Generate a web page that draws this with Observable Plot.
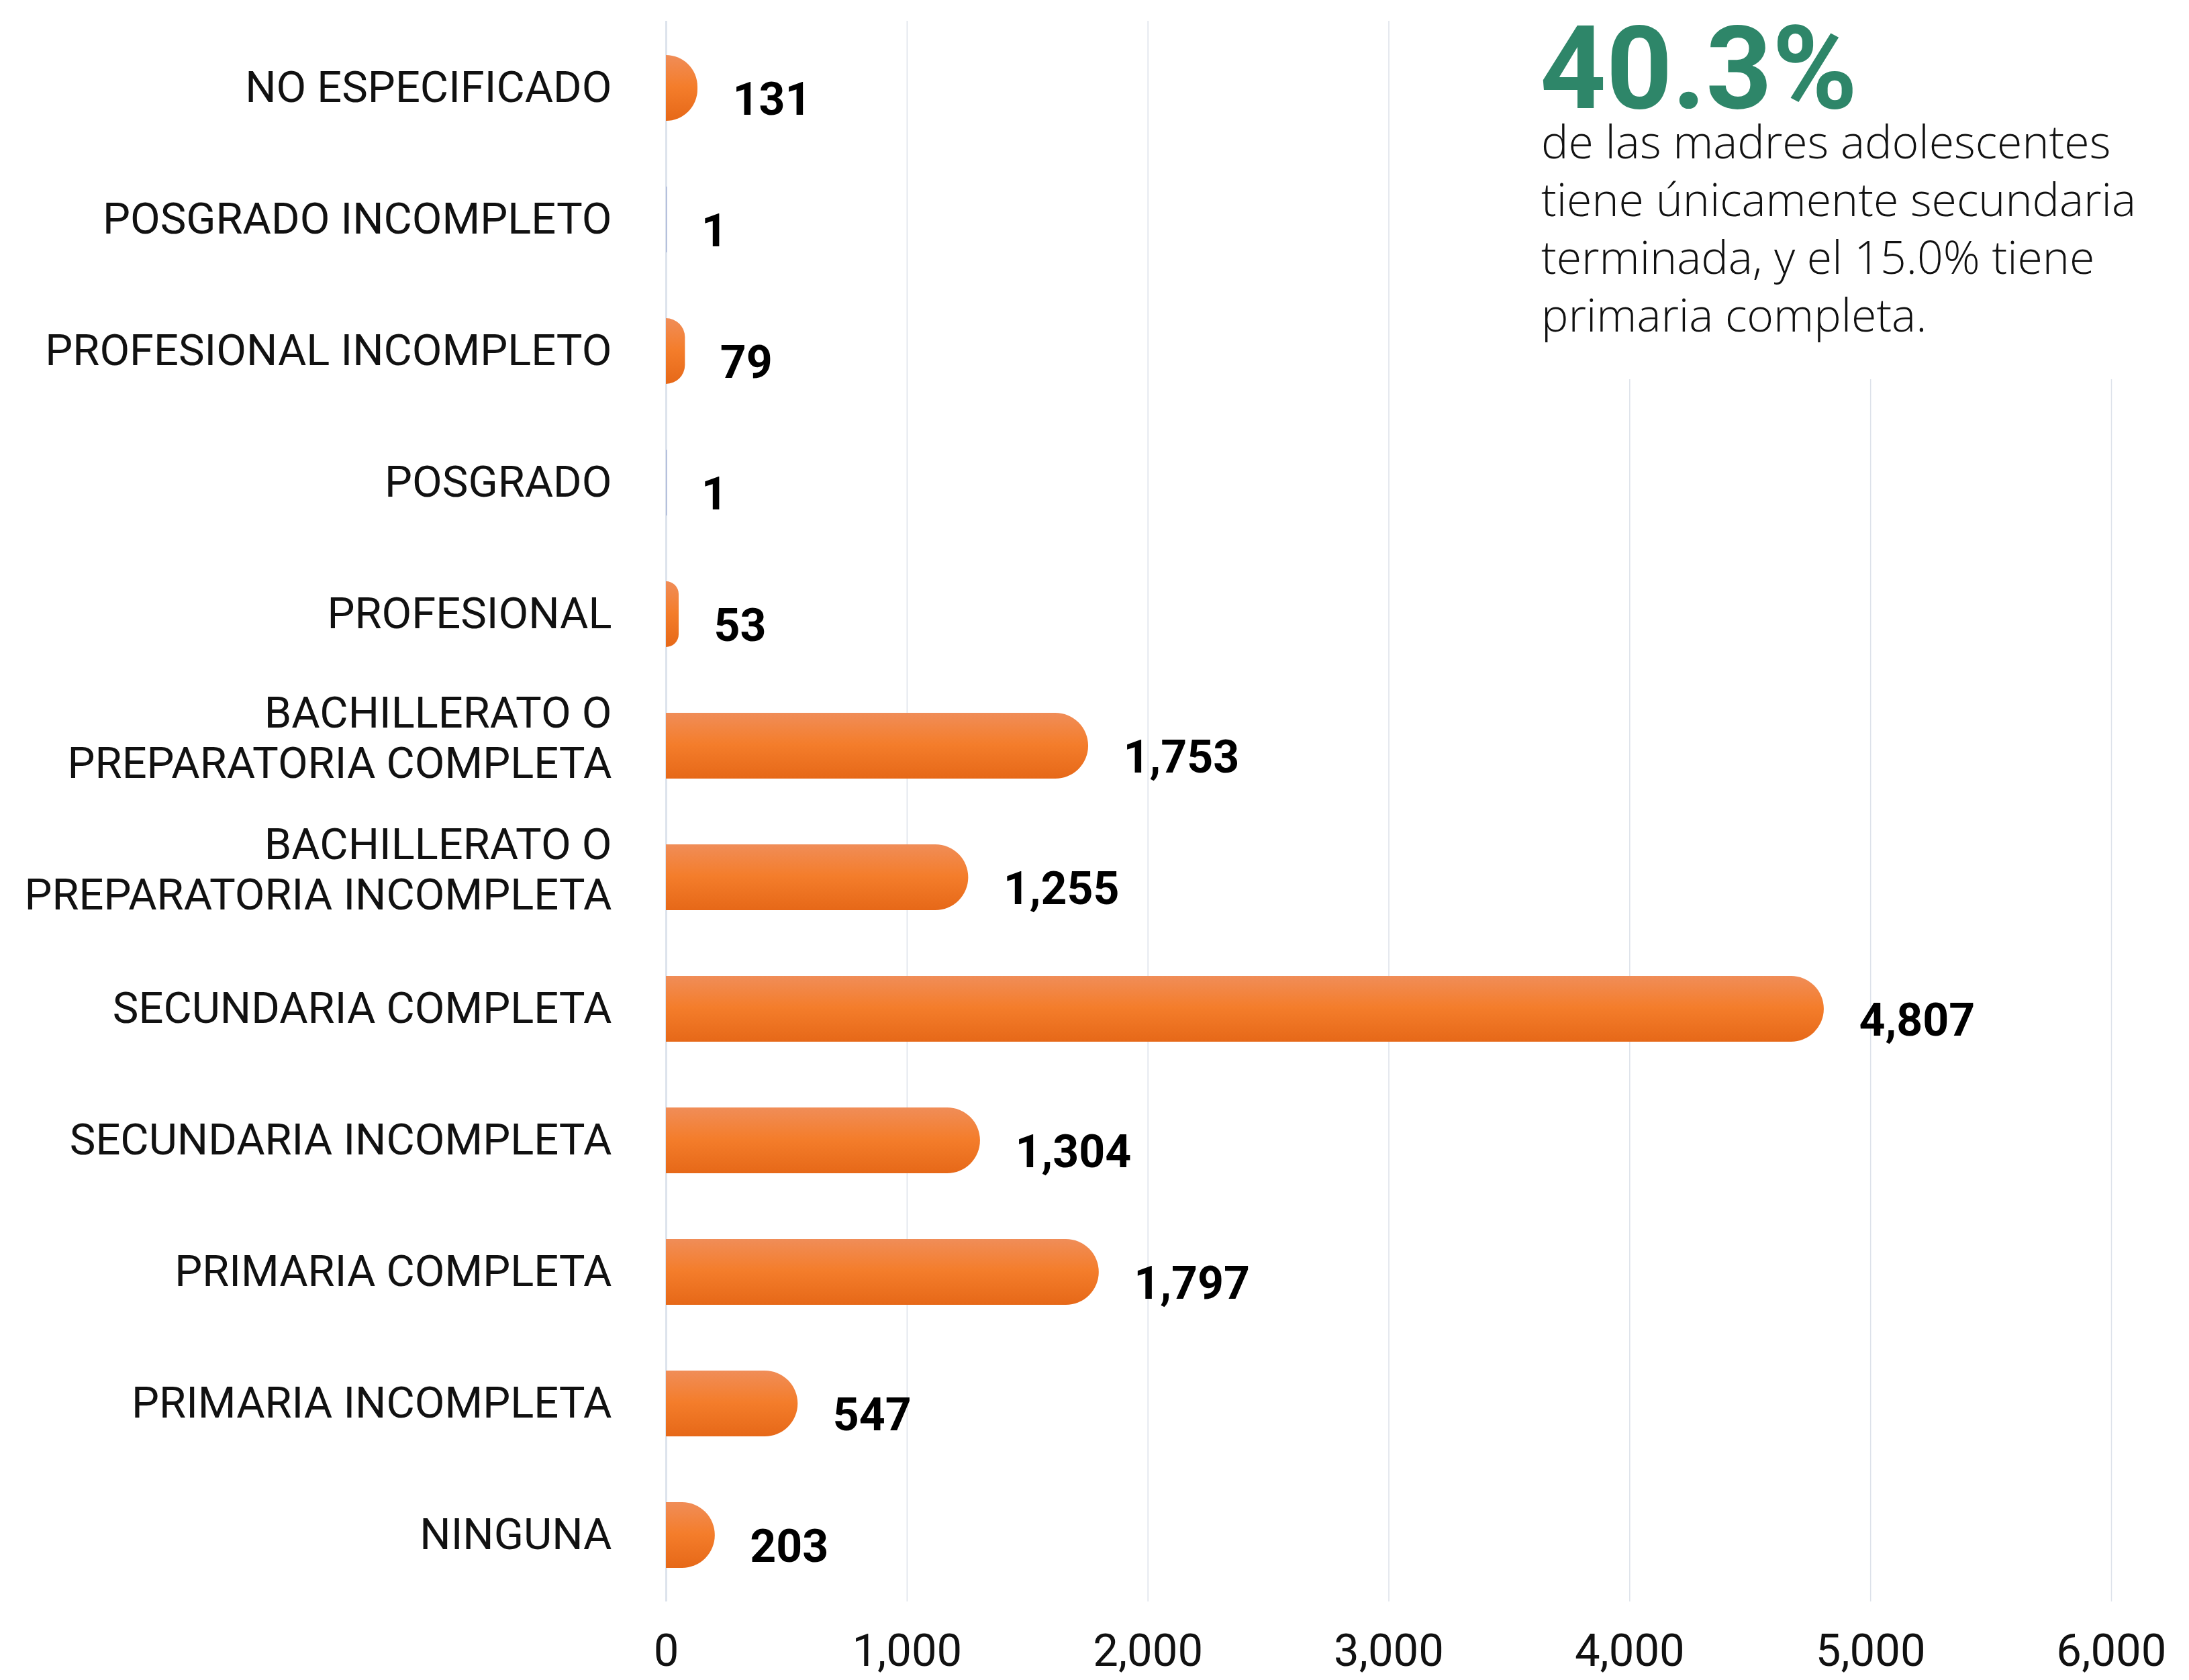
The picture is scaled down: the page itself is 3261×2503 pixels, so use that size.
<!DOCTYPE html>
<html>
<head>
<meta charset="utf-8">
<script src="https://cdn.jsdelivr.net/npm/d3@7"></script>
<script src="https://cdn.jsdelivr.net/npm/@observablehq/plot@0.6"></script>
<style>
  html, body { margin: 0; padding: 0; background: #fff; }
  #wrap { position: relative; width: 3261px; height: 2503px; overflow: hidden; }
  #note { position: absolute; left: 2200px; top: 0; width: 1061px; height: 565px; background: #fff; }
  #big { position: absolute; left: 94px; top: 16px; font-family: Roboto, sans-serif; font-weight: 700; font-size: 172px; line-height: 1; color: #2e8669; letter-spacing: 0px; }
  #body { position: absolute; left: 96px; top: 167px; font-family: "Open Sans", sans-serif; font-weight: 300; font-size: 68px; line-height: 86px; color: #111; white-space: nowrap; }
</style>
</head>
<body>
<div id="wrap">
  <div id="chart"></div>
  <div id="note">
    <div id="big">40.3%</div>
    <div id="body">de las madres adolescentes<br>tiene únicamente secundaria<br>terminada, y el 15.0% tiene<br>primaria completa.</div>
  </div>
</div>
<script>
const categories = [
  "NO ESPECIFICADO",
  "POSGRADO INCOMPLETO",
  "PROFESIONAL INCOMPLETO",
  "POSGRADO",
  "PROFESIONAL",
  "BACHILLERATO O\nPREPARATORIA COMPLETA",
  "BACHILLERATO O\nPREPARATORIA INCOMPLETA",
  "SECUNDARIA COMPLETA",
  "SECUNDARIA INCOMPLETA",
  "PRIMARIA COMPLETA",
  "PRIMARIA INCOMPLETA",
  "NINGUNA"
];
const values = [131, 1, 79, 1, 53, 1753, 1255, 4807, 1304, 1797, 547, 203];
const xTicks = [0, 1000, 2000, 3000, 4000, 5000, 6000];

const data = categories.map((c, i) => ({cat: c, value: values[i]}));
const fmt = d3.format(",");
const singleLine = categories.filter(c => !c.includes("\n"));
const multiLine = categories.filter(c => c.includes("\n"));

const chart = Plot.plot({
  width: 3261,
  height: 2503,
  marginTop: 31,
  marginBottom: 117,
  marginLeft: 992,
  marginRight: 116,
  style: {fontFamily: "Roboto, sans-serif", color: "#111", background: "#fff"},
  x: {domain: [0, 6000], ticks: xTicks},
  y: {domain: categories, paddingInner: 0.5, paddingOuter: 0.25},
  marks: [
    Plot.gridX(xTicks, {stroke: "#dde2ea", strokeOpacity: 1, strokeWidth: 1.5}),
    Plot.ruleX([0], {stroke: "#dde3ec", strokeWidth: 3}),
    Plot.barX(data, {y: "cat", x: "value", fill: "url(#barGrad)", rx2: 49}),
    Plot.tickX(data.filter(d => d.value <= 1), {x: "value", y: "cat", stroke: "#a9b9de", strokeWidth: 1.5}),
    Plot.text(data, {x: "value", y: "cat", text: d => fmt(d.value), dx: 52, dy: 18, textAnchor: "start", fontSize: 68, fontWeight: 700, fill: "#000"}),
    Plot.axisY({ticks: singleLine, tickSize: 0, tickPadding: 81, fontSize: 65, label: null}),
    Plot.axisY({ticks: multiLine, tickSize: 0, tickPadding: 81, fontSize: 65, label: null, lineHeight: 1.15, dy: -14}),
    Plot.axisX({ticks: xTicks, tickFormat: fmt, tickSize: 0, tickPadding: 48, fontSize: 67, label: null})
  ]
});

const svg = d3.select(chart);
const defs = svg.insert("defs", ":first-child");
const g = defs.append("linearGradient").attr("id", "barGrad").attr("x1", 0).attr("y1", 0).attr("x2", 0).attr("y2", 1);
g.append("stop").attr("offset", "0%").attr("stop-color", "#f08d58");
g.append("stop").attr("offset", "48%").attr("stop-color", "#f47d2b");
g.append("stop").attr("offset", "100%").attr("stop-color", "#e66818");

document.getElementById("chart").appendChild(chart);
</script>
</body>
</html>
